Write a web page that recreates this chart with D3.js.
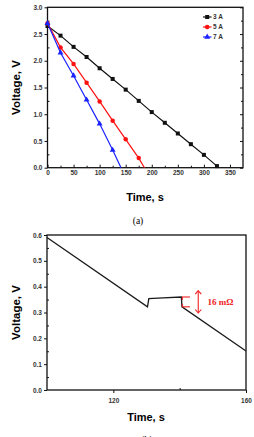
<!DOCTYPE html>
<html>
<head>
<meta charset="utf-8">
<script src="https://cdn.jsdelivr.net/npm/d3@7"></script>
<style>
  body { margin: 0; background: #fff; }
  svg { display: block; }
  .tick text { font-family: "Liberation Sans", Arial, sans-serif; font-weight: bold; font-size: 6.5px; fill: #333; }
  .domain { display: none; }
</style>
</head>
<body>
<div id="chart"></div>
<script>
// ---- data, panel (a): discharge curves
const timeA = [0, 25, 50, 75, 100, 125, 150, 175, 200, 225, 250, 275, 300, 325];
const volt3A = [2.65, 2.47, 2.26, 2.07, 1.86, 1.66, 1.46, 1.25, 1.04, 0.84, 0.64, 0.44, 0.24, 0.03];
const time5A = [0, 25, 50, 75, 100, 125, 150, 175, 186];
const volt5A = [2.7, 2.25, 1.94, 1.59, 1.24, 0.88, 0.53, 0.18, 0.0];
const time7A = [0, 25, 50, 75, 100, 125, 141];
const volt7A = [2.7, 2.15, 1.72, 1.27, 0.82, 0.33, 0.0];
const seriesNames = ["3 A", "5 A", "7 A"];
const xTicksA = [0, 50, 100, 150, 200, 250, 300, 350];
const yTicksA = [0.0, 0.5, 1.0, 1.5, 2.0, 2.5, 3.0];

// ---- data, panel (b): pulse response
const timeB = [100, 130.3, 130.7, 135, 140.5, 140.7, 160];
const voltB = [0.59, 0.322, 0.354, 0.357, 0.36, 0.322, 0.151];
const xTicksB = [120, 160];
const yTicksB = [0.0, 0.1, 0.2, 0.3, 0.4, 0.5, 0.6];
const pulseLabel = "16 mΩ";

const W = 254, H = 437;
const svg = d3.select("#chart").append("svg")
    .attr("width", W)
    .attr("height", H);

const sans = '"Liberation Sans", Arial, sans-serif';
const serif = '"Liberation Serif", "Times New Roman", serif';

// ================= panel (a) =================
const a = { left: 47.5, right: 243, top: 7.3, bottom: 167.7 };
const xA = d3.scaleLinear().domain([0, 375]).range([a.left, a.right]);
const yA = d3.scaleLinear().domain([0, 3]).range([a.bottom, a.top]);

// minor ticks
const gA = svg.append("g");
gA.append("g")
    .attr("transform", `translate(0,${a.bottom})`)
    .call(d3.axisBottom(xA).tickValues(d3.range(25, 375, 50)).tickSize(-2).tickFormat(""));
gA.append("g")
    .attr("transform", `translate(${a.left},0)`)
    .call(d3.axisLeft(yA).tickValues(d3.range(0.25, 3, 0.5)).tickSize(-2).tickFormat(""));
gA.append("g")
    .attr("transform", `translate(${a.right},0)`)
    .call(d3.axisRight(yA).tickValues(d3.range(0.25, 3, 0.5)).tickSize(-2).tickFormat(""));
// major ticks
gA.append("g")
    .attr("transform", `translate(0,${a.bottom})`)
    .call(d3.axisBottom(xA).tickValues(xTicksA).tickSizeInner(-3).tickSizeOuter(0).tickPadding(3).tickFormat(d3.format("d")));
gA.append("g")
    .attr("transform", `translate(${a.left},0)`)
    .call(d3.axisLeft(yA).tickValues(yTicksA).tickSizeInner(3).tickSizeOuter(0).tickPadding(2).tickFormat(d3.format(".1f")));
gA.append("g")
    .attr("transform", `translate(${a.right},0)`)
    .call(d3.axisRight(yA).tickValues(yTicksA).tickSize(-3).tickFormat(""));
gA.selectAll(".tick line").attr("stroke", "#111").attr("stroke-width", 1);

// frame
svg.append("rect")
    .attr("x", a.left).attr("y", a.top)
    .attr("width", a.right - a.left).attr("height", a.bottom - a.top)
    .attr("fill", "none").attr("stroke", "#111").attr("stroke-width", 1.3);

const seriesA = [
  { name: seriesNames[0], t: timeA, v: volt3A, color: "#111111", sym: d3.symbolSquare, size: 16 },
  { name: seriesNames[1], t: time5A, v: volt5A, color: "#ff1010", sym: d3.symbolCircle, size: 16 },
  { name: seriesNames[2], t: time7A, v: volt7A, color: "#1a22ff", sym: d3.symbolTriangle, size: 15 }
];

const lineA = d3.line().x(d => xA(d[0])).y(d => yA(d[1]));

seriesA.forEach(s => {
  const pts = s.t.map((t, i) => [t, s.v[i]]);
  svg.append("path")
    .datum(pts)
    .attr("d", lineA)
    .attr("fill", "none")
    .attr("stroke", s.color)
    .attr("stroke-width", 1.2);
  svg.append("g")
    .selectAll("path")
    .data(pts.filter(p => p[1] > 0.01 || s.name === "3 A"))
    .join("path")
      .attr("transform", d => `translate(${xA(d[0])},${yA(d[1])})`)
      .attr("d", d3.symbol().type(s.sym).size(s.size))
      .attr("fill", s.color);
});

// legend
const leg = svg.append("g");
seriesA.forEach((s, i) => {
  const y = 17 + i * 10;
  leg.append("line")
    .attr("x1", 203).attr("x2", 211.5).attr("y1", y).attr("y2", y)
    .attr("stroke", s.color).attr("stroke-width", 1.2);
  leg.append("path")
    .attr("transform", `translate(207.2,${y})`)
    .attr("d", d3.symbol().type(s.sym).size(s.size))
    .attr("fill", s.color);
  leg.append("text")
    .attr("x", 213).attr("y", y + 2.3)
    .attr("font-family", sans).attr("font-weight", "bold")
    .attr("font-size", 6.5).attr("fill", "#333")
    .text(s.name);
});

// titles
svg.append("text")
    .attr("transform", `translate(20,${(a.top + a.bottom) / 2}) rotate(-90)`)
    .attr("text-anchor", "middle")
    .attr("font-family", sans).attr("font-weight", "bold").attr("font-size", 11.5)
    .text("Voltage, V");
svg.append("text")
    .attr("x", 145).attr("y", 200.5)
    .attr("text-anchor", "middle")
    .attr("font-family", sans).attr("font-weight", "bold").attr("font-size", 11)
    .text("Time, s");
svg.append("text")
    .attr("x", 138).attr("y", 223.5)
    .attr("text-anchor", "middle")
    .attr("font-family", serif).attr("font-size", 9.5)
    .text("(a)");

// ================= panel (b) =================
const b = { left: 47, right: 246, top: 235, bottom: 390 };
const xB = d3.scaleLinear().domain([100, 160]).range([b.left, b.right]);
const yB = d3.scaleLinear().domain([0, 0.6]).range([b.bottom, b.top]);

const gB = svg.append("g");
gB.append("g")
    .attr("transform", `translate(${b.left},0)`)
    .call(d3.axisLeft(yB).tickValues(d3.range(0.05, 0.6, 0.1)).tickSize(-2).tickFormat(""));
gB.append("g")
    .attr("transform", `translate(0,${b.bottom})`)
    .call(d3.axisBottom(xB).tickValues([140]).tickSize(-2).tickFormat(""));
gB.append("g")
    .attr("transform", `translate(0,${b.bottom})`)
    .call(d3.axisBottom(xB).tickValues(xTicksB).tickSizeInner(3).tickSizeOuter(0).tickPadding(5).tickFormat(d3.format("d")));
gB.append("g")
    .attr("transform", `translate(${b.left},0)`)
    .call(d3.axisLeft(yB).tickValues(yTicksB).tickSizeInner(3).tickSizeOuter(0).tickPadding(2).tickFormat(d3.format(".1f")));
gB.selectAll(".tick line").attr("stroke", "#111").attr("stroke-width", 1);

svg.append("rect")
    .attr("x", b.left).attr("y", b.top)
    .attr("width", b.right - b.left).attr("height", b.bottom - b.top)
    .attr("fill", "none").attr("stroke", "#111").attr("stroke-width", 1.3);

svg.append("path")
    .datum(timeB.map((t, i) => [t, voltB[i]]))
    .attr("d", d3.line().x(d => xB(d[0])).y(d => yB(d[1])))
    .attr("fill", "none")
    .attr("stroke", "#1a1a1a")
    .attr("stroke-width", 1.3);

// resistance annotation
const red = "#f02020";
const vHi = voltB[4], vLo = voltB[5];
const ann = svg.append("g").attr("stroke", red).attr("stroke-width", 1.1).attr("fill", "none");
[vHi, vLo].forEach(v => {
  ann.append("line")
    .attr("x1", xB(140.7)).attr("x2", xB(143.1))
    .attr("y1", yB(v)).attr("y2", yB(v));
});
ann.append("line")
    .attr("x1", xB(140.8)).attr("x2", xB(140.8))
    .attr("y1", yB(vHi)).attr("y2", yB(vHi - 0.012));
ann.append("line")
    .attr("x1", xB(140.8)).attr("x2", xB(140.8))
    .attr("y1", yB(vLo)).attr("y2", yB(vLo + 0.012));

const ax = xB(145.6), ay1 = yB(0.385), ay2 = yB(0.298);
ann.append("line").attr("x1", ax).attr("x2", ax).attr("y1", ay1 + 1).attr("y2", ay2 - 1);
ann.append("path")
    .attr("d", `M${ax - 3},${ay1 + 3.5} L${ax},${ay1} L${ax + 3},${ay1 + 3.5}`);
ann.append("path")
    .attr("d", `M${ax - 3},${ay2 - 3.5} L${ax},${ay2} L${ax + 3},${ay2 - 3.5}`);

svg.append("text")
    .attr("x", xB(148.4)).attr("y", yB(0.341) + 3.2)
    .attr("font-family", serif).attr("font-weight", "bold").attr("font-size", 9)
    .attr("fill", red)
    .text(pulseLabel);

svg.append("text")
    .attr("transform", `translate(20,${(b.top + b.bottom) / 2}) rotate(-90)`)
    .attr("text-anchor", "middle")
    .attr("font-family", sans).attr("font-weight", "bold").attr("font-size", 11.5)
    .text("Voltage, V");
svg.append("text")
    .attr("x", 146).attr("y", 421)
    .attr("text-anchor", "middle")
    .attr("font-family", sans).attr("font-weight", "bold").attr("font-size", 11)
    .text("Time, s");
svg.append("text")
    .attr("x", 147).attr("y", 443)
    .attr("text-anchor", "middle")
    .attr("font-family", serif).attr("font-size", 9.5)
    .text("(b)");
</script>
</body>
</html>
